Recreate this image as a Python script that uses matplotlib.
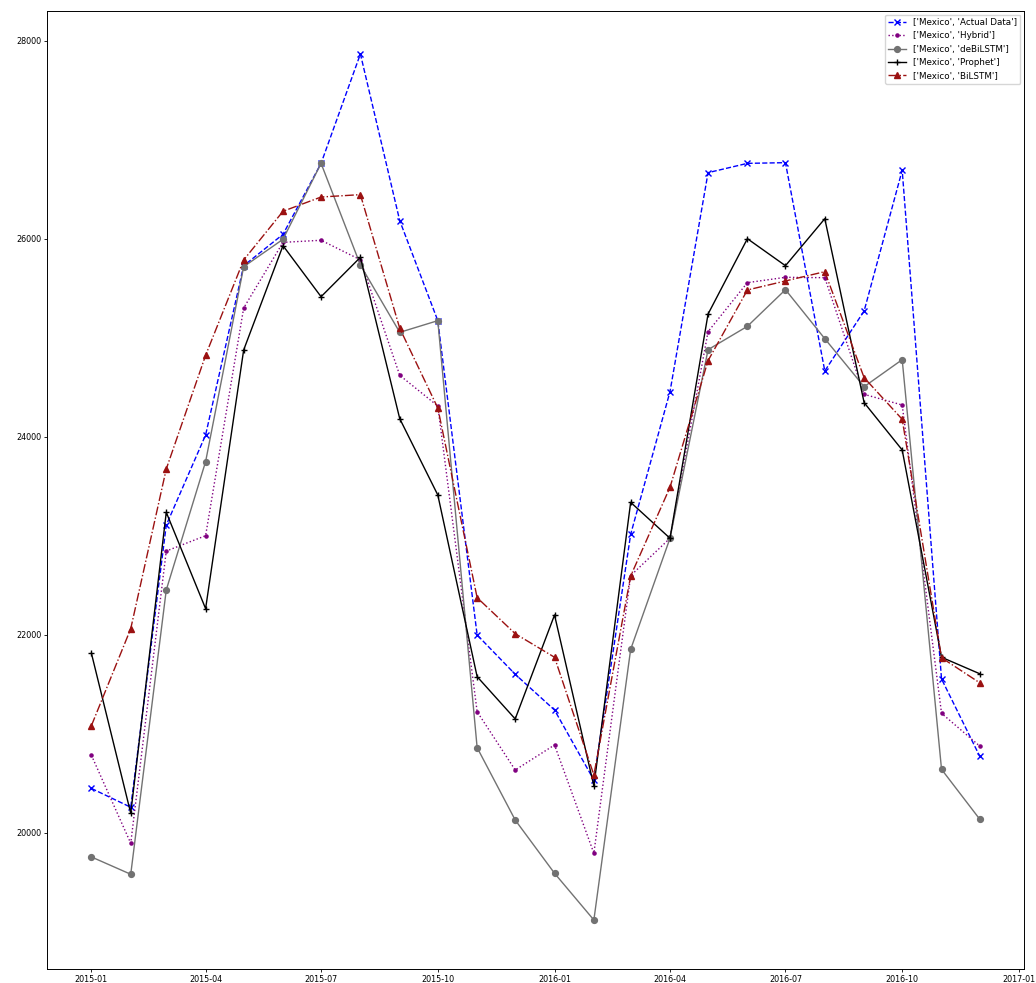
import matplotlib
matplotlib.use("Agg")
import matplotlib.pyplot as plt
import pandas as pd

dates = pd.date_range("2015-01-01", "2016-12-01", freq="MS")

actual = [20450, 20260, 23110, 24020, 25730, 26047, 26764, 27869, 26185, 25175, 22000, 21603,
          21242, 20535, 23017, 24458, 26670, 26764, 26771, 24667, 25273, 26694, 21556, 20778]
hybrid = [20785, 19896, 22848, 23003, 25303, 25966, 25987, 25790, 24623, 24313, 21225, 20636,
          20889, 19795, 22600, 22977, 25064, 25559, 25613, 25609, 24431, 24323, 21209, 20879]
debilstm = [19758, 19583, 22455, 23751, 25720, 25997, 26764, 25737, 25057, 25175, 20862, 20131,
            19593, 19121, 21855, 22977, 24882, 25118, 25488, 24993, 24508, 24781, 20643, 20141]
prophet = [21815, 20199, 23239, 22266, 24879, 25933, 25417, 25815, 24185, 23414, 21579, 21152,
           22202, 20475, 23340, 22977, 25242, 26003, 25730, 26205, 24347, 23869, 21775, 21609]
bilstm = [21084, 22064, 23677, 24825, 25788, 26280, 26424, 26448, 25098, 24293, 22377, 22013,
          21775, 20586, 22596, 23492, 24771, 25485, 25576, 25670, 24599, 24179, 21770, 21518]

labels = ["['Mexico', 'Actual Data']", "['Mexico', 'Hybrid']", "['Mexico', 'deBiLSTM']",
          "['Mexico', 'Prophet']", "['Mexico', 'BiLSTM']"]

fig = plt.figure(figsize=(10.36, 9.83), dpi=100)
ax = fig.add_axes([47/1036, 1-969/983, (1024-47)/1036, (969-11)/983])

lw = 1.0
ax.plot(dates, actual, color="blue", linestyle="--", marker="x", markersize=5, lw=lw, label=labels[0])
ax.plot(dates, hybrid, color="purple", linestyle=":", marker=".", markersize=4.5, lw=lw, label=labels[1])
ax.plot(dates, debilstm, color="#727272", linestyle="-", marker="o", markersize=4.2, lw=lw, label=labels[2])
ax.plot(dates, prophet, color="black", linestyle="-", marker="+", markersize=5, lw=lw, label=labels[3])
ax.plot(dates, bilstm, color="#9b1111", linestyle="-.", marker="^", markersize=4.2, lw=lw, label=labels[4])

ax.set_ylim(18626, 28303)
ax.set_yticks([20000, 22000, 24000, 26000, 28000])
ax.tick_params(labelsize=5.8, length=2.2, width=0.6, pad=2)
for s in ax.spines.values():
    s.set_linewidth(0.7)
ax.legend(loc="upper right", fontsize=6.3, handlelength=2.0, borderaxespad=0.4)

fig.savefig("out.png", dpi=100)
